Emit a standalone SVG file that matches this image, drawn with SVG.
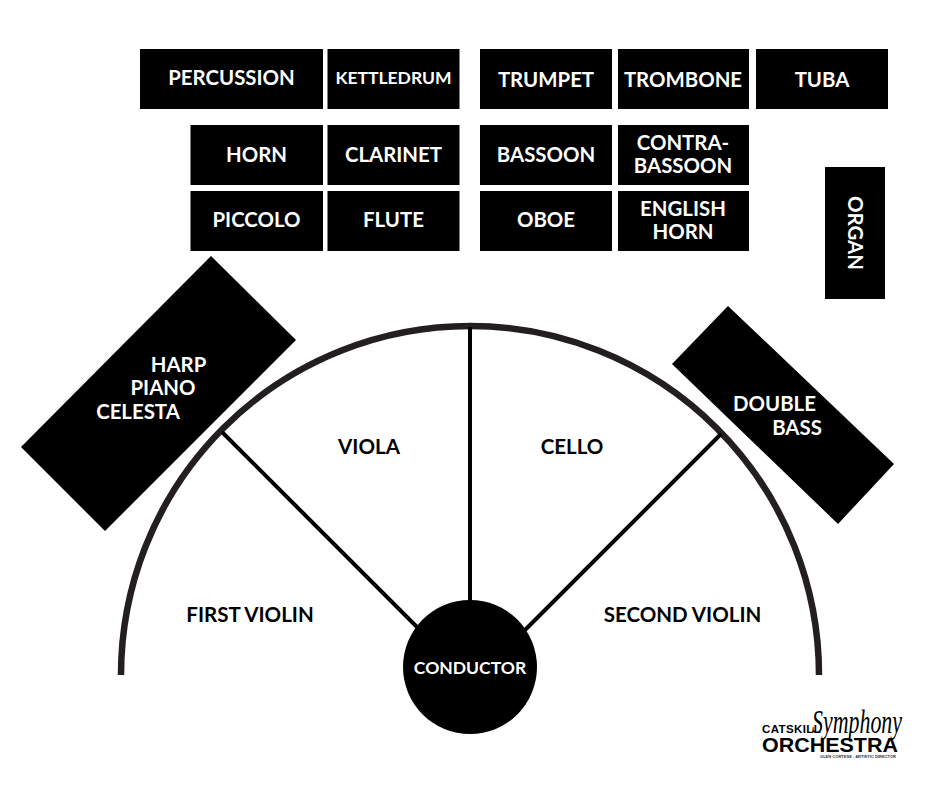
<svg xmlns="http://www.w3.org/2000/svg" width="940" height="788" viewBox="0 0 940 788">
<style>
.box{fill:#000}
.w{fill:#fff;font-family:Lato,"Liberation Sans",sans-serif;font-weight:700;font-size:20.400px;text-anchor:middle}
.b{fill:#000;font-family:Lato,"Liberation Sans",sans-serif;font-weight:700;font-size:20.500px;text-anchor:middle}
.conn{fill:none;stroke:#000;stroke-width:4}
</style>
<rect width="940" height="788" fill="#fff"/>
<g id="connectors">
<path d="M121 675A349 349 0 0 1 819 675" fill="none" stroke="#231f20" stroke-width="6.500"/>
<path class="conn" d="M222 432L420 630M470 327V605M721 434L523 632"/>
</g>
<g id="percussion"><rect class="box" x="140" y="49" width="183" height="60"/><text class="w" x="231.500" y="85">PERCUSSION</text></g>
<g id="kettledrum"><rect class="box" x="327.500" y="49" width="132" height="60"/><text class="w" x="393.500" y="84" style="font-size:17.500px">KETTLEDRUM</text></g>
<g id="trumpet"><rect class="box" x="480" y="49" width="132" height="60"/><text class="w" x="546" y="87">TRUMPET</text></g>
<g id="trombone"><rect class="box" x="618" y="49" width="131" height="60"/><text class="w" x="683" y="87">TROMBONE</text></g>
<g id="tuba"><rect class="box" x="756" y="49" width="132" height="60"/><text class="w" x="822" y="87">TUBA</text></g>
<g id="horn"><rect class="box" x="190.500" y="125" width="132.500" height="60"/><text class="w" x="256.500" y="162">HORN</text></g>
<g id="clarinet"><rect class="box" x="327.500" y="125" width="132" height="60"/><text class="w" x="393.500" y="162">CLARINET</text></g>
<g id="bassoon"><rect class="box" x="480" y="125" width="132" height="60"/><text class="w" x="546" y="162">BASSOON</text></g>
<g id="contrabassoon"><rect class="box" x="618" y="125" width="131" height="60"/><text class="w" x="683" y="150">CONTRA-</text><text class="w" x="683" y="173">BASSOON</text></g>
<g id="piccolo"><rect class="box" x="190.500" y="191" width="132.500" height="60"/><text class="w" x="256.500" y="227">PICCOLO</text></g>
<g id="flute"><rect class="box" x="327.500" y="191" width="132" height="60"/><text class="w" x="393.500" y="227">FLUTE</text></g>
<g id="oboe"><rect class="box" x="480" y="191" width="132" height="60"/><text class="w" x="546" y="227">OBOE</text></g>
<g id="english-horn"><rect class="box" x="618" y="191" width="131" height="60"/><text class="w" x="683" y="216">ENGLISH</text><text class="w" x="683" y="239">HORN</text></g>
<g id="organ"><rect class="box" x="825" y="167" width="60" height="132"/><text class="w" transform="translate(848 233) rotate(90)">ORGAN</text></g>
<g id="harp-piano-celesta"><polygon class="box" points="211,256 296,340 105,531 21,447"/><text class="w" x="178.500" y="372">HARP</text><text class="w" x="163" y="395">PIANO</text><text class="w" x="138" y="419">CELESTA</text></g>
<g id="double-bass"><polygon class="box" points="728,306 894,464 838,524 672,364"/><text class="w" x="774.500" y="411">DOUBLE</text><text class="w" x="797" y="435">BASS</text></g>
<g id="viola"><text class="b" x="369" y="454">VIOLA</text></g>
<g id="cello"><text class="b" x="572" y="454">CELLO</text></g>
<g id="first-violin"><text class="b" x="250" y="622">FIRST VIOLIN</text></g>
<g id="second-violin"><text class="b" x="682.500" y="622">SECOND VIOLIN</text></g>
<g id="conductor"><circle cx="470" cy="667" r="67" fill="#000"/><text class="w" x="470" y="674" style="font-size:17.500px">CONDUCTOR</text></g>
<g id="logo">
<text x="762" y="733" style="font-family:'Liberation Sans',sans-serif;font-weight:700;font-size:11.500px;letter-spacing:.4px" fill="#000">CATSKILL</text>
<text x="762" y="752" style="font-family:'Liberation Sans',sans-serif;font-weight:700;font-size:21px" fill="#000" textLength="136" lengthAdjust="spacingAndGlyphs">ORCHESTRA</text>
<text x="812" y="733" style="font-family:'Liberation Serif',serif;font-style:italic;font-size:33px" fill="#000" textLength="90" lengthAdjust="spacingAndGlyphs">Symphony</text>
<text x="820" y="758" style="font-family:'Liberation Sans',sans-serif;font-weight:700;font-size:4px" fill="#333" textLength="76">GLEN CORTESE , ARTISTIC DIRECTOR</text>
</g>
</svg>
